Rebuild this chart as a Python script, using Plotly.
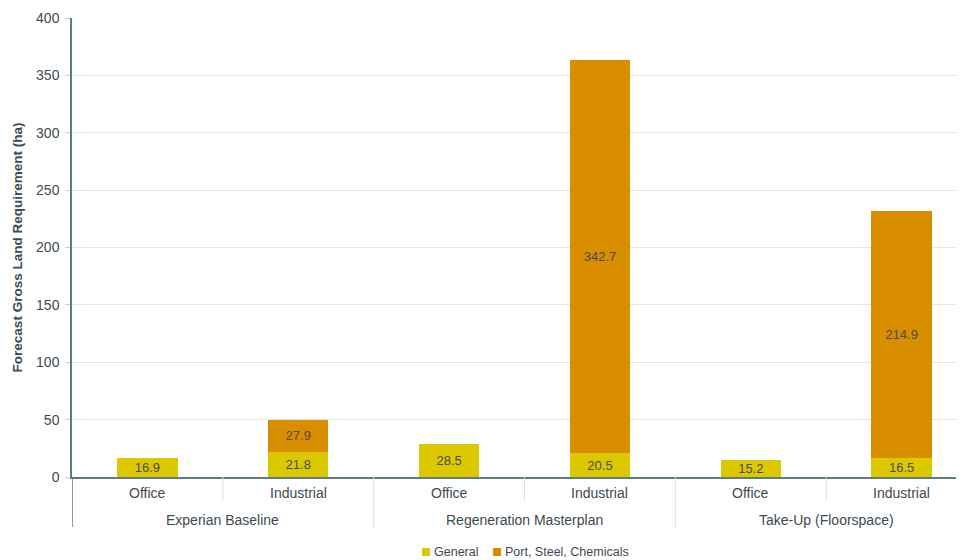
import plotly.graph_objects as go

groups = ["Experian Baseline", "Experian Baseline", "Regeneration Masterplan",
          "Regeneration Masterplan", "Take-Up (Floorspace)", "Take-Up (Floorspace)"]
uses = ["Office", "Industrial", "Office", "Industrial", "Office", "Industrial"]
general = [16.9, 21.8, 28.5, 20.5, 15.2, 16.5]
port_steel_chem = [None, 27.9, None, 342.7, None, 214.9]
series_names = ["General", "Port, Steel, Chemicals"]

c_general = "#DCC800"
c_port = "#D98E00"
axis_col = "#5E7B82"
txt_col = "#3d4a52"
div_col = "#dcdfe0"

PLOT_W = 890
PLOT_H = 459

fig = go.Figure()
fig.add_trace(go.Bar(x=[groups, uses], y=general, name=series_names[0],
                     marker=dict(color=c_general, line=dict(width=0)),
                     text=[f"{v:.1f}" for v in general], textposition="inside",
                     insidetextanchor="middle",
                     textfont=dict(color="#4a4a4a", size=13), constraintext="none"))
fig.add_trace(go.Bar(x=[groups, uses], y=port_steel_chem, name=series_names[1],
                     marker=dict(color=c_port, line=dict(width=0)),
                     text=[("" if v is None else f"{v:.1f}") for v in port_steel_chem],
                     textposition="inside", insidetextanchor="middle",
                     textfont=dict(color="#4a4a4a", size=13), constraintext="none"))

# category labels (inner level) and group labels (outer level)
for i, u in enumerate(uses):
    fig.add_annotation(x=i, xref="x", y=0, yref="paper", yshift=-16, text=u,
                       showarrow=False, yanchor="middle",
                       font=dict(size=14, color=txt_col))
group_names = list(dict.fromkeys(groups))
for gi, g in enumerate(group_names):
    idx = [i for i, gg in enumerate(groups) if gg == g]
    centre = sum(idx) / len(idx)
    fig.add_annotation(x=centre, xref="x", y=0, yref="paper", yshift=-43, text=g,
                       showarrow=False, yanchor="middle",
                       font=dict(size=14, color=txt_col))
    fig.add_shape(type="line", xref="x", yref="paper", x0=centre, x1=centre,
                  y0=0, y1=-24 / PLOT_H, line=dict(color=div_col, width=1))
    fig.add_shape(type="line", xref="x", yref="paper", x0=idx[0] - 0.5, x1=idx[0] - 0.5,
                  y0=0, y1=-50 / PLOT_H,
                  line=dict(color=axis_col if gi == 0 else div_col,
                            width=1.5 if gi == 0 else 1))

# compact legend (small square swatch + label), below the axis
legend_items = [(series_names[0], c_general, 350), (series_names[1], c_port, 421)]
for name, col, px in legend_items:
    fig.add_shape(type="rect", xref="paper", yref="paper",
                  xsizemode="pixel", ysizemode="pixel",
                  xanchor=px / PLOT_W, yanchor=0, x0=0, x1=8, y0=-79, y1=-71,
                  fillcolor=col, line=dict(width=0))
    fig.add_annotation(x=(px + 10) / PLOT_W, xref="paper", y=0, yref="paper",
                       yshift=-75, xanchor="left", yanchor="middle", text=name,
                       showarrow=False, font=dict(size=12.5, color=txt_col))

fig.update_layout(
    width=956, height=552,
    margin=dict(l=64, r=956 - 64 - PLOT_W, t=10, b=552 - 10 - PLOT_H),
    barmode="stack", bargap=0.6,
    plot_bgcolor="white", paper_bgcolor="white",
    font=dict(family="Liberation Sans, Arial, sans-serif", size=13, color=txt_col),
    showlegend=False,
)
fig.update_yaxes(range=[0, 400], dtick=50, showgrid=True, gridcolor="#e2e6e6",
                 gridwidth=1.3, automargin=False,
                 showline=True, linecolor=axis_col, linewidth=1.5,
                 ticks="outside", tickcolor="#c9cfd0", ticklen=5, ticklabelstandoff=3,
                 tickfont=dict(size=14, color=txt_col), zeroline=False,
                 title=dict(text="<b>Forecast Gross Land Requirement (ha)</b>",
                            font=dict(size=13.5, color="#3a4a50"), standoff=10))
fig.update_xaxes(range=[-0.5, 5.4], automargin=False,
                 showline=True, linecolor=axis_col, linewidth=1.5,
                 ticks="", showticklabels=False, showdividers=False)

fig.write_html("out.html")
